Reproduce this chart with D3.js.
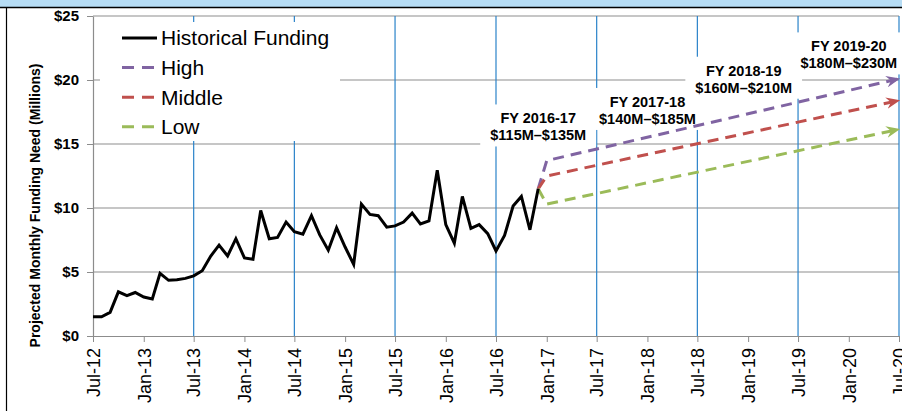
<!DOCTYPE html>
<html>
<head>
<meta charset="utf-8">
<script src="https://cdn.jsdelivr.net/npm/d3@7"></script>
<style>
  body { margin: 0; background: #fff; }
  svg { display: block; font-family: "Liberation Sans", Arial, sans-serif; }
</style>
</head>
<body>
<div id="chart"></div>
<script>
// historical monthly funding need, $M, Jul-12 .. Dec-16
const historyStart = "2012-07";
const historyValues = [
  1.5, 1.5, 1.85, 3.45, 3.15, 3.4,
  3.05, 2.9, 4.9, 4.35, 4.4, 4.5, 4.7, 5.1, 6.25, 7.1, 6.25, 7.6,
  6.1, 6.0, 9.8, 7.6, 7.7, 8.9, 8.15, 7.95, 9.4, 7.9, 6.7, 8.45,
  6.95, 5.6, 10.3, 9.5, 9.4, 8.5, 8.6, 8.9, 9.6, 8.75, 9.0, 12.95,
  8.7, 7.25, 10.9, 8.4, 8.7, 8.0, 6.65, 7.85, 10.15, 10.9, 8.3, 11.5
];

// projections
const projMonths = ["2016-12", "2017-01", "2020-07"];
const highValues = [11.5, 13.7, 20.1];
const middleValues = [11.5, 12.5, 18.4];
const lowValues = [11.5, 10.3, 16.15];

const seriesNames = ["Historical Funding", "High", "Middle", "Low"];
const seriesColors = ["#000000", "#8064a2", "#c0504d", "#9bbb59"];

const yTicks = [0, 5, 10, 15, 20, 25];
const xTickStart = "2012-07";
const xTickCount = 17; // every 6 months to Jul-20

// fiscal year annotations: anchor month, anchor value, two lines
const fyMonths = ["2016-12", "2018-01", "2018-12-16", "2020-01"];
const fyValues = [16.37, 17.66, 20.1, 22.0];
const fyYears = ["FY 2016-17", "FY 2017-18", "FY 2018-19", "FY 2019-20"];
const fyRanges = ["$115M\u2013$135M", "$140M\u2013$185M", "$160M\u2013$210M", "$180M\u2013$230M"];

const width = 902;
const height = 411;
const margin = { left: 93, right: 3, top: 16, bottom: 75 };

const parse = (s) => (s.length > 7 ? d3.timeParse("%Y-%m-%d")(s) : d3.timeParse("%Y-%m")(s));
const fmt = d3.timeFormat("%b-%y");

const svg = d3.select("#chart").append("svg").attr("width", width).attr("height", height);

// page frame
svg.append("rect").attr("x", 0).attr("y", 0).attr("width", width).attr("height", 7).attr("fill", "#b6dcf4");
svg.append("line").attr("x1", 0).attr("x2", width).attr("y1", 7.5).attr("y2", 7.5).attr("stroke", "#000").attr("stroke-width", 1.5);
svg.append("line").attr("x1", 6.5).attr("x2", 6.5).attr("y1", 7).attr("y2", height).attr("stroke", "#000").attr("stroke-width", 1.2);

const x = d3
  .scaleTime()
  .domain([parse("2012-07"), parse("2020-07")])
  .range([margin.left, width - margin.right]);
const y = d3
  .scaleLinear()
  .domain([0, 25])
  .range([height - margin.bottom, margin.top]);

const xTicks = d3.range(xTickCount).map((i) => d3.timeMonth.offset(parse(xTickStart), i * 6));
const julys = xTicks.filter((d) => d.getMonth() === 6 && d > x.domain()[0]);

// horizontal grid
svg
  .append("g")
  .selectAll("line")
  .data(yTicks.slice(1))
  .enter()
  .append("line")
  .attr("x1", margin.left)
  .attr("x2", width - margin.right)
  .attr("y1", (d) => y(d))
  .attr("y2", (d) => y(d))
  .attr("stroke", "#b3b3b3")
  .attr("stroke-width", 1.6);

// july vertical lines
svg
  .append("g")
  .selectAll("line")
  .data(julys)
  .enter()
  .append("line")
  .attr("x1", (d) => x(d))
  .attr("x2", (d) => x(d))
  .attr("y1", y(25))
  .attr("y2", y(0))
  .attr("stroke", "#2a83c9")
  .attr("stroke-width", 1.2);

// axes
const xAxis = svg
  .append("g")
  .attr("transform", `translate(0,${y(0)})`)
  .call(d3.axisBottom(x).tickValues(xTicks).tickFormat(fmt).tickSize(6).tickSizeOuter(0));
xAxis.select(".domain").attr("stroke", "#8c8c8c").attr("stroke-width", 1.2);
xAxis.selectAll(".tick line").attr("stroke", "#8c8c8c");
xAxis
  .selectAll(".tick text")
  .attr("font-size", 18)
  .attr("fill", "#000")
  .attr("text-anchor", "end")
  .attr("transform", "rotate(-90)")
  .attr("x", -12)
  .attr("y", 0)
  .attr("dy", "0.35em");

const yAxis = svg
  .append("g")
  .attr("transform", `translate(${margin.left},0)`)
  .call(d3.axisLeft(y).tickValues(yTicks).tickFormat((d) => "$" + d).tickSize(6).tickSizeOuter(0));
yAxis.select(".domain").attr("stroke", "#8c8c8c").attr("stroke-width", 1.2);
yAxis.selectAll(".tick line").attr("stroke", "#8c8c8c");
yAxis
  .selectAll(".tick text")
  .attr("font-size", 15)
  .attr("font-weight", "bold")
  .attr("fill", "#000")
  .attr("x", -14);

svg
  .append("text")
  .attr("transform", `translate(35,${(y(0) + 55) / 2 + 10}) rotate(-90)`)
  .attr("text-anchor", "middle")
  .attr("dy", "0.35em")
  .attr("font-size", 14)
  .attr("font-weight", "bold")
  .text("Projected Monthly Funding Need (Millions)");

// legend background
const legend = svg.append("g");
legend.append("rect").attr("x", 100).attr("y", 22).attr("width", 240).attr("height", 119).attr("fill", "#fff");

// annotation boxes and labels
const fy = fyYears.map((d, i) => ({ year: d, range: fyRanges[i], date: parse(fyMonths[i]), value: fyValues[i] }));
const fyG = svg.append("g").selectAll("g").data(fy).enter().append("g")
  .attr("transform", (d) => `translate(${x(d.date)},${y(d.value)})`);
fyG.append("rect").attr("fill", "#fff");
fyG.append("text").attr("text-anchor", "middle").attr("font-size", 14.5).attr("font-weight", "bold")
  .attr("y", -3).text((d) => d.year);
fyG.append("text").attr("text-anchor", "middle").attr("font-size", 14.5).attr("font-weight", "bold")
  .attr("y", 14).text((d) => d.range);
fyG.each(function () {
  const g = d3.select(this);
  const b = this.getBBox();
  g.select("rect")
    .attr("x", b.x - 10)
    .attr("y", b.y - 6)
    .attr("width", b.width + 20)
    .attr("height", b.height + 9);
});

// arrow markers
const defs = svg.append("defs");
seriesColors.slice(1).forEach((c, i) => {
  defs
    .append("marker")
    .attr("id", "arrow" + i)
    .attr("viewBox", "0 0 12 10")
    .attr("refX", 11)
    .attr("refY", 5)
    .attr("markerWidth", 14)
    .attr("markerHeight", 12)
    .attr("markerUnits", "userSpaceOnUse")
    .attr("orient", "auto")
    .append("path")
    .attr("d", "M0,0 L12,5 L0,10 L4,5 Z")
    .attr("fill", c);
});

const line = d3
  .line()
  .x((d) => x(d.date))
  .y((d) => y(d.value));

// projections
[highValues, middleValues, lowValues].forEach((vals, i) => {
  const pts = vals.map((v, j) => ({ date: parse(projMonths[j]), value: v }));
  svg
    .append("path")
    .datum(pts)
    .attr("d", line)
    .attr("fill", "none")
    .attr("stroke", seriesColors[i + 1])
    .attr("stroke-width", 3)
    .attr("stroke-dasharray", "11,7")
    .attr("marker-end", `url(#arrow${i})`);
});

// history
const history = historyValues.map((v, i) => ({ date: d3.timeMonth.offset(parse(historyStart), i), value: v }));
svg
  .append("path")
  .datum(history)
  .attr("d", line)
  .attr("fill", "none")
  .attr("stroke", "#000")
  .attr("stroke-width", 3)
  .attr("stroke-linejoin", "miter");

// legend items
const items = legend
  .selectAll(".item")
  .data(seriesNames)
  .enter()
  .append("g")
  .attr("class", "item")
  .attr("transform", (d, i) => `translate(122,${38 + i * 29.6})`);
items
  .append("line")
  .attr("x1", 0)
  .attr("x2", (d, i) => (i === 0 ? 35 : 32))
  .attr("stroke", (d, i) => seriesColors[i])
  .attr("stroke-width", 3)
  .attr("stroke-dasharray", (d, i) => (i === 0 ? null : "12,8"));
items
  .append("text")
  .attr("x", 39)
  .attr("dy", "0.35em")
  .attr("font-size", 21)
  .text((d) => d);
</script>
</body>
</html>
